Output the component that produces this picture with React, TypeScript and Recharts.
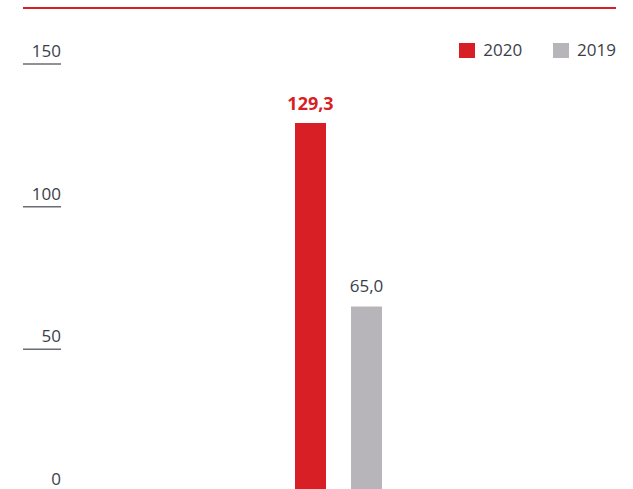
import React from 'react';
import { BarChart, Bar, XAxis, YAxis, Legend, LabelList } from 'recharts';

const categories = ['Total'];
const series2020 = [129.3];
const series2019 = [65.0];
const yTicks = [0, 50, 100, 150];
const seriesNames = ['2020', '2019'];
const seriesColors = ['#d81f26', '#b7b5b9'];

const data = categories.map((c, i) => ({ name: c, v2020: series2020[i], v2019: series2019[i] }));

const FONT = '"Open Sans", sans-serif';
const TEXT = '#3b3e4a';

const fmt = (v: any) => Number(v).toFixed(1).replace('.', ',');

const YTick = (props: any) => {
  const { x, y, payload } = props;
  return (
    <g>
      <text x={x} y={y - 7} textAnchor="end" fontSize={17} fill={TEXT} fontFamily={FONT}>
        {payload.value}
      </text>
      <line x1={x - 38} x2={x} y1={y} y2={y} stroke="#6b6d75" strokeWidth={1.5} />
    </g>
  );
};

const renderLegend = (props: any) => {
  const items = [...(props.payload || [])].sort(
    (a: any, b: any) => seriesNames.indexOf(String(a.value)) - seriesNames.indexOf(String(b.value))
  );
  return (
    <div style={{ display: 'flex', justifyContent: 'flex-end', alignItems: 'center', fontFamily: FONT, fontSize: 17, color: TEXT, lineHeight: '20px' }}>
      {items.map((it: any, i: number) => (
        <div key={it.value} style={{ display: 'flex', alignItems: 'center', marginLeft: i === 0 ? 0 : 31 }}>
          <span style={{ width: 16, height: 15, background: it.color, display: 'inline-block', marginRight: 8 }} />
          <span>{it.value}</span>
        </div>
      ))}
    </div>
  );
};

export default function App() {
  return (
    <div style={{ position: 'absolute', left: 0, top: 0, width: 633, height: 489, overflow: 'hidden', background: '#fff', fontFamily: FONT }}>
      <div style={{ position: 'absolute', left: 23, top: 7, width: 593, height: 2, background: '#d81f26' }} />
      <BarChart width={633} height={500} data={data} margin={{ top: 64, right: 17, bottom: 8, left: 23 }} barGap={25}>
        <XAxis dataKey="name" hide />
        <YAxis
          domain={[0, 150]}
          ticks={yTicks}
          width={38}
          tickSize={0}
          tickMargin={0}
          tickLine={false}
          axisLine={false}
          tick={<YTick />}
          interval={0}
        />
        <Legend
          verticalAlign="top"
          align="right"
          content={renderLegend}
          wrapperStyle={{ position: 'absolute', top: 40, right: 17, left: 'auto', width: 300, height: 0, overflow: 'visible' }}
        />
        <Bar dataKey="v2020" name={seriesNames[0]} fill={seriesColors[0]} barSize={31} isAnimationActive={false}>
          <LabelList dataKey="v2020" position="top" offset={13} formatter={fmt} fill={seriesColors[0]} fontSize={18} fontWeight={700} fontFamily={FONT} />
        </Bar>
        <Bar dataKey="v2019" name={seriesNames[1]} fill={seriesColors[1]} barSize={31} isAnimationActive={false}>
          <LabelList dataKey="v2019" position="top" offset={15} formatter={fmt} fill={TEXT} fontSize={17} fontFamily={FONT} />
        </Bar>
      </BarChart>
    </div>
  );
}
